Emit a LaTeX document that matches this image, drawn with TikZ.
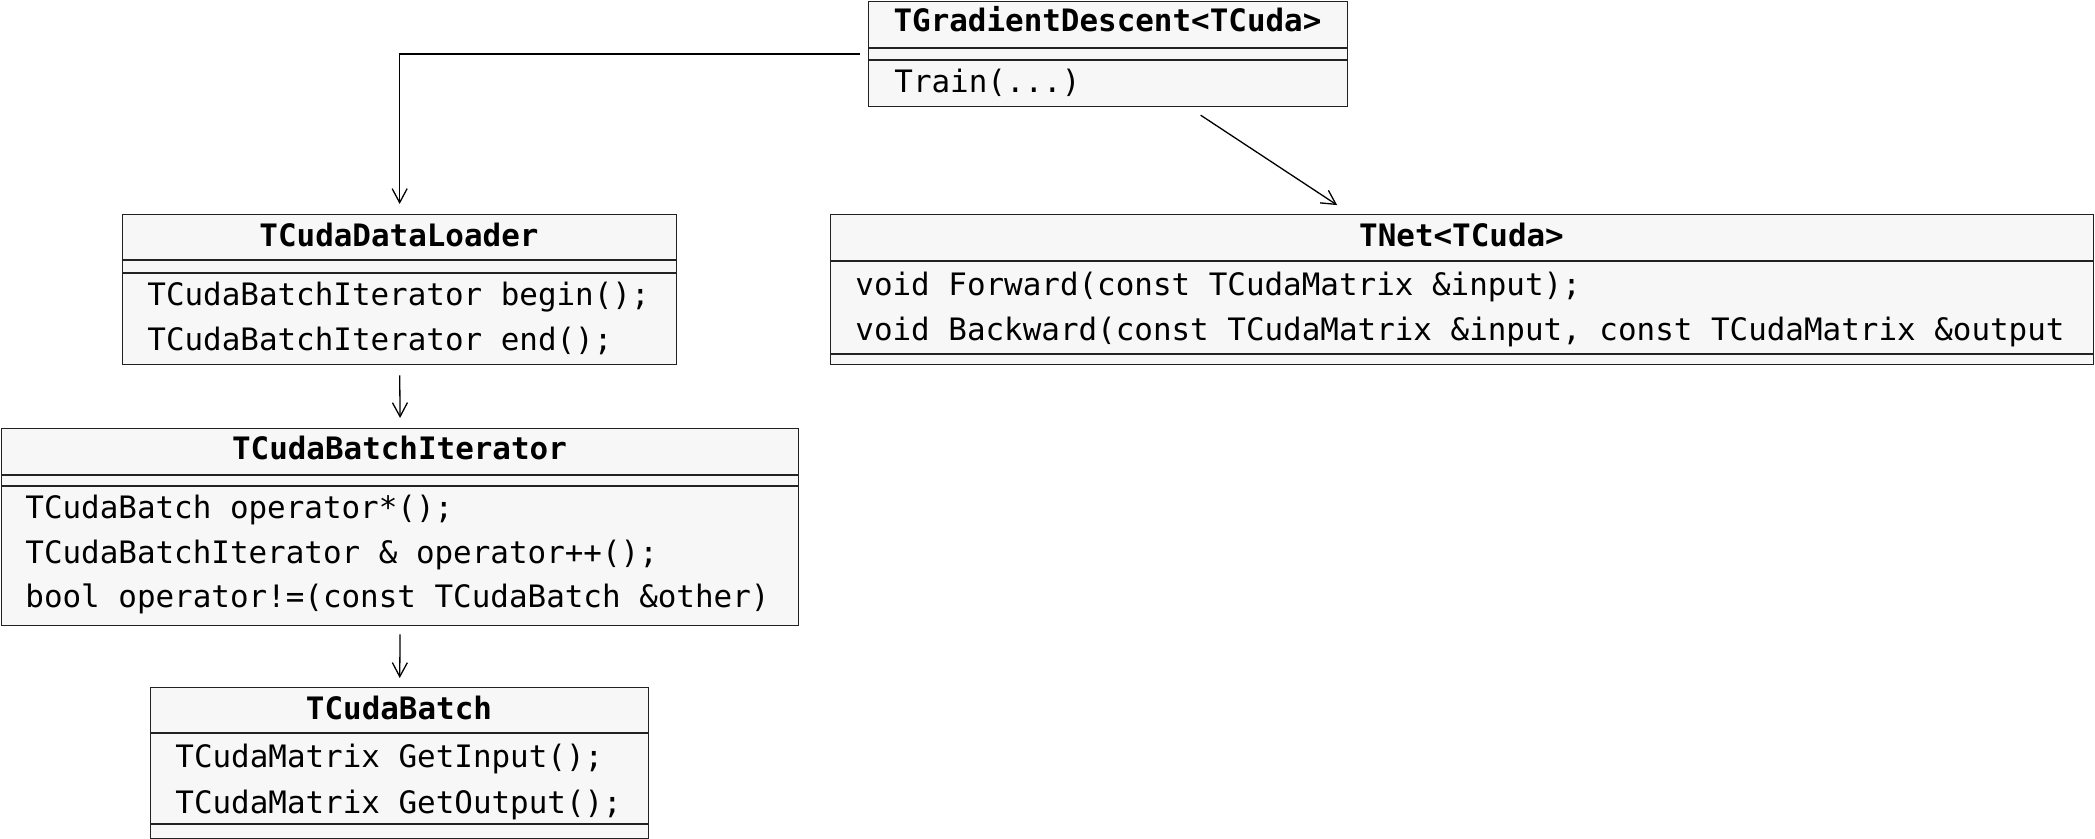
\documentclass[tikz,border=0pt]{standalone}
\usepackage{fontspec}
\setmonofont{DejaVu Sans Mono}
\usetikzlibrary{arrows.meta,calc}
\definecolor{boxgray}{HTML}{F7F7F7}
\definecolor{linegray}{HTML}{222222}

\begin{document}
\begin{tikzpicture}[x=0.5pt, y=-0.5pt,
    classbox/.style={draw=linegray, line width=0.65pt, fill=boxgray, inner sep=0pt, anchor=north west},
    classname/.style={font=\ttfamily\bfseries\fontsize{15.45}{18}\selectfont, anchor=base, inner sep=0pt},
    member/.style={font=\ttfamily\fontsize{15.45}{18}\selectfont, anchor=base west, inner sep=0pt},
    divider/.style={draw=linegray, line width=0.6pt},
    assoc/.style={-{Straight Barb[length=7pt,width=7.5pt]}, line width=0.65pt}]

  % Fix the page size
  \useasboundingbox (0,0) rectangle (2095,839);

  % Draw the class boxes
  \node[classbox, minimum width=239.5pt, minimum height=52.5pt] (grad) at (868,1) {};
  \node[classbox, minimum width=277pt, minimum height=75pt] (loader) at (122,214) {};
  \node[classbox, minimum width=631.5pt, minimum height=75pt] (net) at (830,214) {};
  \node[classbox, minimum width=398.5pt, minimum height=98.5pt] (iter) at (1,428) {};
  \node[classbox, minimum width=249pt, minimum height=75.5pt] (batch) at (150,687) {};

  % Draw the compartment lines
  \draw[divider] ($(grad.north west)+(0,47)$) -- ($(grad.north east)+(0,47)$);
  \draw[divider] ($(grad.north west)+(0,59)$) -- ($(grad.north east)+(0,59)$);
  \draw[divider] ($(loader.north west)+(0,46)$) -- ($(loader.north east)+(0,46)$);
  \draw[divider] ($(loader.north west)+(0,59)$) -- ($(loader.north east)+(0,59)$);
  \draw[divider] ($(net.north west)+(0,47)$) -- ($(net.north east)+(0,47)$);
  \draw[divider] ($(net.north west)+(0,140)$) -- ($(net.north east)+(0,140)$);
  \draw[divider] ($(iter.north west)+(0,47)$) -- ($(iter.north east)+(0,47)$);
  \draw[divider] ($(iter.north west)+(0,58)$) -- ($(iter.north east)+(0,58)$);
  \draw[divider] ($(batch.north west)+(0,46)$) -- ($(batch.north east)+(0,46)$);
  \draw[divider] ($(batch.north west)+(0,137)$) -- ($(batch.north east)+(0,137)$);

  % Class names
  \node[classname] (grad-name) at (1107.5,32) {TGradientDescent<TCuda>};
  \node[classname] (loader-name) at (399,247) {TCudaDataLoader};
  \node[classname] (net-name) at (1461.5,247) {TNet<TCuda>};
  \node[classname] (iter-name) at (399.5,460) {TCudaBatchIterator};
  \node[classname] (batch-name) at (399,719) {TCudaBatch};

  % Members
  \node[member] (grad-train) at (894,93) {Train(...)};
  \node[member] (loader-begin) at (147,306) {TCudaBatchIterator begin();};
  \node[member] (loader-end) at (147,351) {TCudaBatchIterator end();};
  \node[member] (net-fwd) at (855,296) {void Forward(const TCudaMatrix \&input);};
  \node[member] (net-bwd) at (855,341) {void Backward(const TCudaMatrix \&input, const TCudaMatrix \&output};
  \node[member] (iter-deref) at (25,519) {TCudaBatch operator*();};
  \node[member] (iter-inc) at (25,564) {TCudaBatchIterator \& operator++();};
  \node[member] (iter-neq) at (25,608) {bool operator!=(const TCudaBatch \&other)};
  \node[member] (batch-in) at (175,767) {TCudaMatrix GetInput();};
  \node[member] (batch-out) at (175,813) {TCudaMatrix GetOutput();};

  % Draw the associations
  \draw[assoc, shorten <=4pt, shorten >=5pt] (grad.west) -| (loader.north);
  \draw[assoc, shorten <=7.2pt, shorten >=8.1pt] ($(grad.south)+(80.5,0)$) -- ($(net.north)+(-111.5,0)$);
  \draw[assoc, shorten <=5pt, shorten >=5pt] (loader.south) -- (iter.north);
  \draw[assoc, shorten <=4pt, shorten >=4.5pt] (iter.south) -- (batch.north);
\end{tikzpicture}
\end{document}
